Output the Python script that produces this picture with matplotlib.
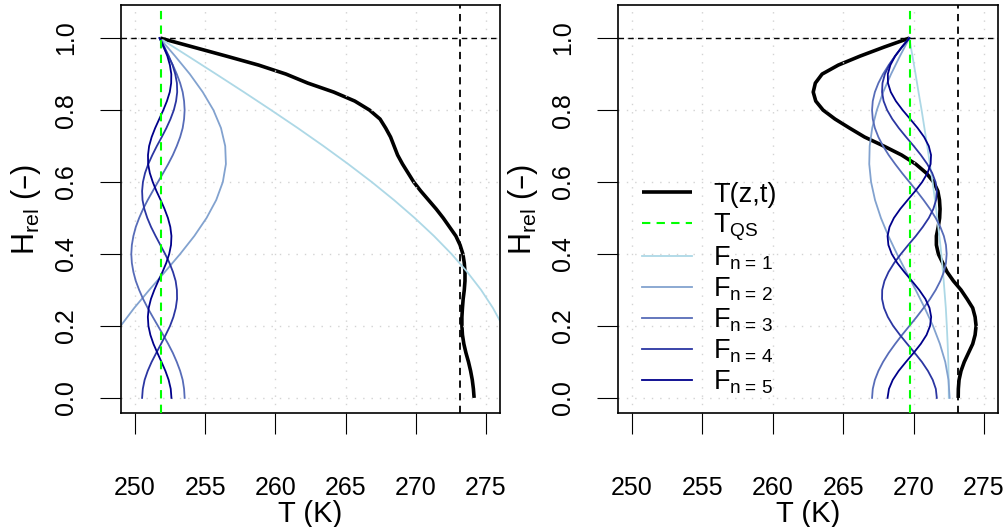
import numpy as np
import matplotlib
matplotlib.use("Agg")
import matplotlib.pyplot as plt
from matplotlib.legend_handler import HandlerLine2D

plt.rcParams['font.family'] = ['Liberation Sans', 'DejaVu Sans']

# relative height grids (bottom -> top)
h_coarse = np.linspace(0, 1, 21)
h_fine = np.linspace(0, 1, 41)

T_QS_left = 251.85
T_QS_right = 269.72
T_melt = 273.15

# ---- left panel ----
left_T = [274.15, 274.10, 274.02, 273.90, 273.75, 273.57, 273.42, 273.32, 273.28, 273.28,
          273.32, 273.37, 273.45, 273.50, 273.50, 273.45, 273.35, 273.15, 272.85, 272.40,
          271.95, 271.45, 270.90, 270.35, 269.85, 269.45, 269.05, 268.70, 268.45, 268.20,
          267.85, 267.45, 266.70, 265.65, 264.15, 262.30, 260.75, 258.80, 256.50, 254.15,
          251.80]
left_F1 = [277.45, 277.37, 277.13, 276.74, 276.19, 275.49, 274.65, 273.66, 272.54, 271.29,
           269.92, 268.44, 266.86, 265.18, 263.42, 261.59, 259.69, 257.75, 255.77, 253.77,
           251.75]
left_F2 = [247.02, 247.15, 247.54, 248.15, 248.97, 249.94, 251.01, 252.12, 253.21, 254.22,
           255.09, 255.78, 256.25, 256.47, 256.42, 256.12, 255.58, 254.82, 253.90, 252.85,
           251.75]
left_F3 = [253.53, 253.49, 253.39, 253.21, 252.97, 252.69, 252.36, 252.00,
           251.63, 251.26, 250.90, 250.57, 250.29, 250.05, 249.88, 249.77,
           249.73, 249.77, 249.88, 250.05, 250.29, 250.57, 250.90, 251.26,
           251.63, 252.00, 252.36, 252.69, 252.97, 253.21, 253.39, 253.49,
           253.53, 253.49, 253.39, 253.21, 252.97, 252.69, 252.36, 252.02, 251.75]
left_F4 = [250.50, 250.55, 250.68, 250.90, 251.18, 251.51, 251.85, 252.18, 252.49, 252.73,
           252.90, 252.99, 252.98, 252.89, 252.70, 252.45, 252.14, 251.80, 251.46, 251.14,
           250.87, 250.66, 250.53, 250.50, 250.56, 250.71, 250.94, 251.23, 251.55, 251.90,
           252.23, 252.52, 252.76, 252.92, 253.00, 252.98, 252.86, 252.67, 252.40, 252.09,
           251.75]
left_F5 = [252.59, 252.54, 252.39, 252.16, 251.88, 251.59, 251.31, 251.09, 250.95, 250.91,
           250.97, 251.13, 251.37, 251.65, 251.95, 252.22, 252.43, 252.56, 252.59, 252.51,
           252.34, 252.10, 251.82, 251.52, 251.26, 251.05, 250.93, 250.92, 251.00, 251.18,
           251.43, 251.72, 252.01, 252.27, 252.47, 252.57, 252.58, 252.48, 252.30, 252.04,
           251.75]

# ---- right panel ----
right_T = [273.17, 273.18, 273.23, 273.37, 273.60, 273.90, 274.20, 274.37, 274.44, 274.37,
           274.20, 273.80, 273.37, 272.83, 272.38, 272.07, 271.76, 271.62, 271.62, 271.75,
           271.85, 271.88, 271.84, 271.72, 271.42, 270.90, 270.15, 269.15, 267.88, 266.52,
           265.45, 264.42, 263.57, 263.05, 262.87, 263.02, 263.50, 264.65, 266.20, 267.90,
           269.70]
right_F1 = [272.50, 272.49, 272.47, 272.42, 272.36, 272.29, 272.19, 272.09, 271.97, 271.83,
            271.68, 271.52, 271.35, 271.16, 270.97, 270.77, 270.57, 270.35, 270.14, 269.92,
            269.70]
right_F2 = [272.56, 272.48, 272.25, 271.87, 271.38, 270.79, 270.15, 269.48, 268.82, 268.21,
            267.68, 267.26, 266.98, 266.85, 266.88, 267.06, 267.39, 267.84, 268.40, 269.03,
            269.70]
right_F3 = [267.05, 267.10, 267.25, 267.50, 267.83, 268.23, 268.69, 269.18,
            269.70, 270.22, 270.71, 271.17, 271.57, 271.90, 272.15, 272.30,
            272.35, 272.30, 272.15, 271.90, 271.57, 271.17, 270.71, 270.22,
            269.70, 269.18, 268.69, 268.23, 267.83, 267.50, 267.25, 267.10,
            267.05, 267.10, 267.25, 267.50, 267.83, 268.23, 268.69, 269.18, 269.70]
right_F4 = [271.65, 271.58, 271.36, 271.02, 270.59, 270.08, 269.55, 269.03, 268.55, 268.17,
            267.90, 267.76, 267.77, 267.93, 268.22, 268.62, 269.10, 269.62, 270.16, 270.65,
            271.08, 271.40, 271.60, 271.65, 271.56, 271.32, 270.97, 270.52, 270.01, 269.47,
            268.95, 268.49, 268.12, 267.87, 267.76, 267.79, 267.96, 268.27, 268.68, 269.17,
            269.70]
right_F5 = [268.15, 268.25, 268.52, 268.94, 269.46, 270.00, 270.51, 270.92, 271.17, 271.25,
            271.13, 270.84, 270.40, 269.88, 269.34, 268.84, 268.45, 268.21, 268.15, 268.29,
            268.60, 269.05, 269.58, 270.12, 270.61, 270.99, 271.21, 271.24, 271.08, 270.75,
            270.29, 269.76, 269.22, 268.74, 268.38, 268.18, 268.17, 268.35, 268.69, 269.16,
            269.70]

mode_colors = ['#ADD8E6', '#82A2CF', '#576CB8', '#2B36A2', '#00008B']
mode_labels = [r'$\mathregular{F_{n{=}\,%d}}$' % n for n in range(1, 6)]

x_ticks = [250, 255, 260, 265, 270, 275]
y_ticks = [0.0, 0.2, 0.4, 0.6, 0.8, 1.0]


class MidCapLine(HandlerLine2D):
    # keep the legend line at mid cap height even with tall handle boxes
    def create_artists(self, legend, orig_handle, xdescent, ydescent, width,
                       height, fontsize, trans):
        arts = super().create_artists(legend, orig_handle, xdescent, ydescent,
                                      width, height, fontsize, trans)
        for a in arts:
            a.set_ydata(np.full_like(np.asarray(a.get_xdata(), float), 0.36 * fontsize))
        return arts


fig = plt.figure(figsize=(10.07, 5.27), dpi=100)
ax1 = fig.add_axes([0.1202, 0.2163, 0.3764, 0.7742])
ax2 = fig.add_axes([0.6137, 0.2163, 0.3774, 0.7742])


def panel(ax, T, modes, tqs, legend=False):
    # profile first, grid on top of it (as in base R)
    ax.plot(T, h_fine, color='black', lw=2.6, zorder=1.5, label='T(z,t)',
            solid_capstyle='butt')
    for xt in x_ticks:
        ax.axvline(xt, color='#D3D3D3', lw=1.0, ls=(0, (1, 5)), zorder=1.8)
    for yt in y_ticks:
        ax.axhline(yt, color='#D3D3D3', lw=1.0, ls=(0, (1, 5)), zorder=1.8)
    for i, f in enumerate(modes):
        h = h_coarse if len(f) == 21 else h_fine
        ax.plot(f, h, color=mode_colors[i], lw=1.3, zorder=2, label=mode_labels[i])
    ax.axvline(tqs, color='#00FF00', lw=1.5, ls=(0, (4, 3)), zorder=3,
               label=r'$\mathregular{T_{QS}}$')
    ax.axvline(T_melt, color='black', lw=1.3, ls=(0, (4, 3)), zorder=3)
    ax.axhline(1.0, color='black', lw=1.0, ls=(0, (4, 3)), zorder=3)

    ax.set_xlim(249, 276)
    ax.set_ylim(-0.042, 1.092)
    ax.set_xticks(x_ticks)
    ax.set_yticks(y_ticks)
    ax.set_xticklabels([str(v) for v in x_ticks])
    ax.set_yticklabels(['%.1f' % v for v in y_ticks], rotation=90, va='center')
    ax.tick_params(direction='out', length=15, width=0.8, labelsize=18)
    ax.tick_params(axis='x', pad=30)
    ax.tick_params(axis='y', pad=16)
    for s in ax.spines.values():
        s.set_linewidth(1.2)
    ax.set_xlabel('T (K)', fontsize=21)
    ax.xaxis.set_label_coords(0.5, -0.212)
    ax.set_ylabel(r'$\mathregular{H_{rel}}$ (–)', fontsize=22)
    ax.yaxis.set_label_coords(-0.205, 0.5)

    if legend:
        handles, labels = ax.get_legend_handles_labels()
        order = [0, 6, 1, 2, 3, 4, 5]
        # tall handle boxes make every row the same height, as in the R legend
        ax.legend([handles[i] for i in order], [labels[i] for i in order],
                  loc='center left', bbox_to_anchor=(0.063, 0.309), frameon=False,
                  fontsize=19.5, handlelength=1.85, handleheight=1.6,
                  handletextpad=0.78, labelspacing=-0.14, borderpad=0,
                  borderaxespad=0,
                  handler_map={plt.Line2D: MidCapLine()})


panel(ax1, left_T, [left_F1, left_F2, left_F3, left_F4, left_F5], T_QS_left)
panel(ax2, right_T, [right_F1, right_F2, right_F3, right_F4, right_F5], T_QS_right,
      legend=True)

fig.savefig('out.png', dpi=100)
